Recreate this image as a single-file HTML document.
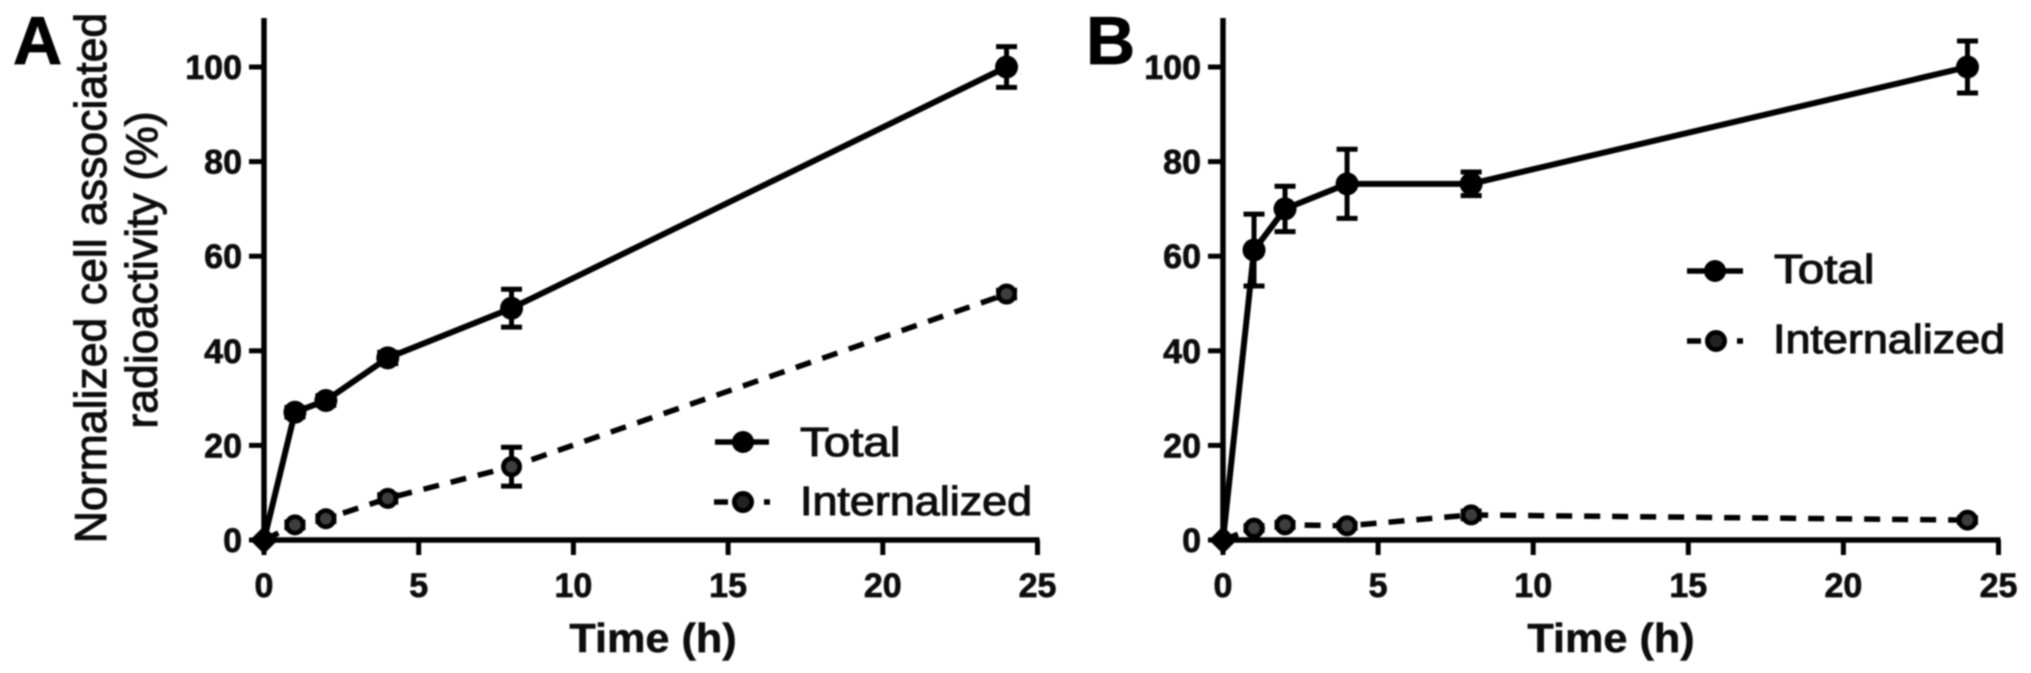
<!DOCTYPE html>
<html lang="en">
<head>
<meta charset="utf-8">
<title>Cell associated radioactivity over time</title>
<style>
html,body{margin:0;padding:0;background:#fff;width:2031px;height:673px;overflow:hidden}
svg{display:block}
text{font-family:"Liberation Sans",Arial,sans-serif;fill:#111}
.tick{font-size:34px;font-weight:bold;stroke:#111;stroke-width:0.7px}
.xtitle{font-size:41px;font-weight:bold;stroke:#111;stroke-width:0.5px}
.ytitle{font-size:44.6px;stroke:#111;stroke-width:1px}
.legend{font-size:41px;stroke:#111;stroke-width:1.1px}
.panel{font-size:68px;font-weight:bold;fill:#000;stroke:#000;stroke-width:0.8px}
</style>
</head>
<body>
<svg id="figure" xmlns="http://www.w3.org/2000/svg" width="2031" height="673" viewBox="0 0 2031 673">
  <defs>
    <filter id="soft" x="-5%" y="-5%" width="110%" height="110%"><feGaussianBlur stdDeviation="0.7"/></filter>
  </defs>
  <rect width="2031" height="673" fill="#fff"/>
  <g filter="url(#soft)">
    <g id="panelA"></g>
    <g id="panelB"></g>

    <text class="panel" x="13" y="64">A</text>
    <text class="panel" x="1086" y="64">B</text>

    <text class="ytitle" text-anchor="middle" transform="translate(106,278) rotate(-90)">Normalized cell associated</text>
    <text class="ytitle" text-anchor="middle" transform="translate(157,270) rotate(-90)">radioactivity (%)</text>

    <text class="xtitle" text-anchor="middle" transform="translate(653,652) scale(1.055,1)">Time (h)</text>
    <text class="xtitle" text-anchor="middle" transform="translate(1611,652) scale(1.055,1)">Time (h)</text>

    <g>
      <g>
        <line x1="715" y1="442" x2="769" y2="442" stroke="#000" stroke-width="5.5"/>
        <circle cx="743" cy="442" r="11" fill="#000"/>
        <text class="legend" transform="translate(800,456) scale(1.16,1)">Total</text>
      </g>
      <g>
        <line x1="714" y1="502" x2="728" y2="502" stroke="#000" stroke-width="5.5"/>
        <circle cx="743" cy="502" r="8.5" fill="#222" stroke="#000" stroke-width="5"/>
        <line x1="764" y1="502" x2="770" y2="502" stroke="#000" stroke-width="5.5"/>
        <text class="legend" transform="translate(800,515) scale(1.095,1)">Internalized</text>
      </g>
    </g>
    <g>
      <g>
        <line x1="1687" y1="271" x2="1743" y2="271" stroke="#000" stroke-width="5.5"/>
        <circle cx="1715" cy="271" r="11" fill="#000"/>
        <text class="legend" transform="translate(1774,283) scale(1.16,1)">Total</text>
      </g>
      <g>
        <line x1="1687" y1="341" x2="1701" y2="341" stroke="#000" stroke-width="5.5"/>
        <circle cx="1716" cy="341" r="8.5" fill="#222" stroke="#000" stroke-width="5"/>
        <line x1="1737" y1="341" x2="1743" y2="341" stroke="#000" stroke-width="5.5"/>
        <text class="legend" transform="translate(1773,353) scale(1.095,1)">Internalized</text>
      </g>
    </g>
  </g>
</svg>
<script>
const xTickLabels = [0, 5, 10, 15, 20, 25];
const yTickLabels = [0, 20, 40, 60, 80, 100];
const timePoints = [0, 1, 2, 4, 8, 24];

const totalA = [0, 27, 29.5, 38.5, 49, 100];
const totalAErr = [0, 1, 1, 1.2, 4, 4.3];
const internalizedA = [0, 3.2, 4.5, 8.8, 15.5, 52];
const internalizedAErr = [0, 0.6, 0.6, 0.8, 4.1, 0.8];

const totalB = [0, 61.3, 70, 75.3, 75.3, 100];
const totalBErr = [0, 7.6, 4.8, 7.3, 2.5, 5.5];
const internalizedB = [0, 2.5, 3.2, 3, 5.3, 4.2];
const internalizedBErr = [0, 0.5, 0.5, 0.5, 0.8, 0.5];

const NS = 'http://www.w3.org/2000/svg';

function makeEl(parent, tag, attrs) {
  const el = document.createElementNS(NS, tag);
  for (const k in attrs) el.setAttribute(k, attrs[k]);
  parent.appendChild(el);
  return el;
}

function drawPanel(root, prefix, cfg, totalVals, totalErr, intVals, intErr) {
  const xMaxTick = xTickLabels[xTickLabels.length - 1];
  const yMaxTick = yTickLabels[yTickLabels.length - 1];
  const xScale = v => cfg.x0 + (cfg.x1 - cfg.x0) * v / xMaxTick;
  const yScale = v => cfg.y0 + (cfg.y100 - cfg.y0) * v / yMaxTick;

  const yAxis = makeEl(root, 'line', {x1: xScale(0), y1: cfg.top, x2: xScale(0), y2: cfg.y0 + 2, stroke: '#000', 'stroke-width': 5.5});
  
  

  const xAxis = makeEl(root, 'line', {x1: xScale(0), y1: cfg.y0, x2: xScale(xMaxTick) + 2, y2: cfg.y0, stroke: '#000', 'stroke-width': 5.5});
  
  

  yTickLabels.forEach(v => {
    const t = makeEl(root, 'line', {x1: xScale(0) - 15, y1: yScale(v), x2: xScale(0), y2: yScale(v), stroke: '#000', 'stroke-width': 5});
    
    
    const l = makeEl(root, 'text', {class: 'tick', x: xScale(0) - 22, y: yScale(v) + 12, 'text-anchor': 'end'});
    l.textContent = v;
    
    
  });

  xTickLabels.forEach(v => {
    const t = makeEl(root, 'line', {x1: xScale(v), y1: cfg.y0, x2: xScale(v), y2: cfg.y0 + 15, stroke: '#000', 'stroke-width': 5});
    
    
    const l = makeEl(root, 'text', {class: 'tick', x: xScale(v), y: 597, 'text-anchor': 'middle'});
    l.textContent = v;
    
    
  });

  const pts = vals => timePoints.map((t, i) => xScale(t) + ',' + yScale(vals[i])).join(' ');

  const intLine = makeEl(root, 'polyline', {points: pts(intVals), fill: 'none', stroke: '#000', 'stroke-width': 5.5, 'stroke-dasharray': '16 12'});
  
  

  const totLine = makeEl(root, 'polyline', {points: pts(totalVals), fill: 'none', stroke: '#000', 'stroke-width': 6});
  
  

  function errorBar(t, v, e, name) {
    if (e <= 0) return;
    const g = makeEl(root, 'g', {});
    
    
    const x = xScale(t);
    makeEl(g, 'line', {x1: x, y1: yScale(v - e), x2: x, y2: yScale(v + e), stroke: '#000', 'stroke-width': 5});
    makeEl(g, 'line', {x1: x - 10.5, y1: yScale(v - e), x2: x + 10.5, y2: yScale(v - e), stroke: '#000', 'stroke-width': 5});
    makeEl(g, 'line', {x1: x - 10.5, y1: yScale(v + e), x2: x + 10.5, y2: yScale(v + e), stroke: '#000', 'stroke-width': 5});
  }

  timePoints.forEach((t, i) => {
    errorBar(t, intVals[i], intErr[i], prefix + '-internalized-error-bar');
    if (t === 0) return;
    const c = makeEl(root, 'circle', {cx: xScale(t), cy: yScale(intVals[i]), r: 8, fill: '#3c3c3c', stroke: '#000', 'stroke-width': 5});
    
    
  });

  timePoints.forEach((t, i) => {
    errorBar(t, totalVals[i], totalErr[i], prefix + '-total-error-bar');
    if (t === 0) return;
    const c = makeEl(root, 'circle', {cx: xScale(t), cy: yScale(totalVals[i]), r: 11.5, fill: '#000'});
    
    
  });

  const ox = xScale(timePoints[0]);
  const oy = yScale(totalVals[0]);
  const d = makeEl(root, 'polygon', {points: (ox - 14) + ',' + oy + ' ' + ox + ',' + (oy - 14) + ' ' + (ox + 14) + ',' + oy + ' ' + ox + ',' + (oy + 14), fill: '#000'});
  
  
}

drawPanel(document.getElementById('panelA'), 'panel-a', {x0: 264, x1: 1037.5, y0: 540, y100: 67, top: 18}, totalA, totalAErr, internalizedA, internalizedAErr);
drawPanel(document.getElementById('panelB'), 'panel-b', {x0: 1223, x1: 1998.5, y0: 540, y100: 67, top: 18}, totalB, totalBErr, internalizedB, internalizedBErr);
</script>
</body>
</html>
